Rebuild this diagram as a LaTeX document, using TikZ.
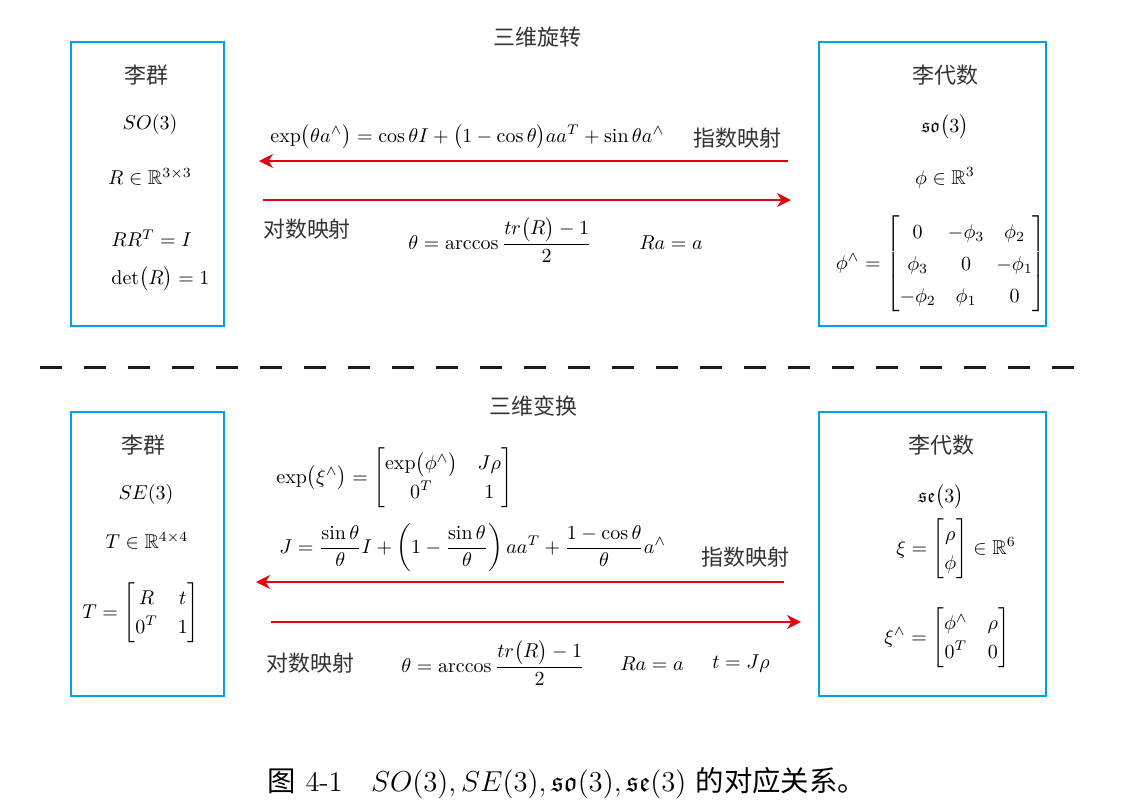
\documentclass[tikz,border=0pt]{standalone}
\usepackage{amsmath,amssymb}
\usepackage{fontspec}
\newfontfamily\cjk{Noto Sans CJK SC}
\usetikzlibrary{arrows.meta}
\definecolor{boxblue}{RGB}{0,160,233}
\definecolor{arrowred}{RGB}{230,0,18}
\definecolor{dashdark}{RGB}{35,24,21}
\begin{document}
\begin{tikzpicture}[x=0.5pt, y=-0.5pt,
	every node/.style={font=\fontsize{10}{12}\selectfont, inner sep=1pt},
	zh/.style={font=\fontsize{11}{13}\selectfont\cjk, text=black!80},
	groupbox/.style={draw=boxblue, line width=1pt, minimum width=76.5pt, minimum height=142pt},
	algebrabox/.style={groupbox, minimum width=113.5pt},
	maparrow/.style={draw=arrowred, line width=1pt, -{Stealth[length=7pt, width=7pt]}},
	dashline/.style={draw=dashdark, line width=1.5pt, dash pattern=on 11pt off 11pt}]
			\useasboundingbox (0,0) rectangle (1148,811);
			% boxes
			\node[groupbox] (grpSO) at (147.5,184) {};
			\node[algebrabox] (algSO) at (932.5,184) {};
			\node[groupbox] (grpSE) at (147.5,554) {};
			\node[algebrabox] (algSE) at (932.5,554) {};
			% rotation
			\node[zh] (rotTitle) at (537,37) {三维旋转};
			\node[zh] (grpSOname) at (146,75) {李群};
			\node (grpSOsym) at (150,124) {$SO(3)$};
			\node (grpSOset) at (150,177) {$R \in \mathbb{R}^{3\times 3}$};
			\node[anchor=west] (grpSOorth) at (109,238) {$RR^T = I$};
			\node[anchor=west] (grpSOdet) at (109,279) {$\det\bigl(R\bigr) = 1$};
			\node[zh] (algSOname) at (945,75) {李代数};
			\node (algSOsym) at (945,127) {$\mathfrak{so}\bigl(3\bigr)$};
			\node (algSOset) at (945,178) {$\phi \in \mathbb{R}^3$};
			\node (algSOhat) at (941,264) {\setlength{\arraycolsep}{3pt}\renewcommand{\arraystretch}{1.35}$\phi^{\wedge} = \begin{bmatrix} 0 & -\phi_3 & \phi_2 \\ \phi_3 & 0 & -\phi_1 \\ -\phi_2 & \phi_1 & 0 \end{bmatrix}$};
			\draw[maparrow, shorten <=15pt, shorten >=17pt] (algSO.west |- 0,161) -- (grpSO.east |- 0,161);
			\draw[maparrow, shorten <=19pt, shorten >=13.5pt] (grpSO.east |- 0,200) -- (algSO.west |- 0,200);
			\node[anchor=west] (rotExp) at (268,137) {$\exp\bigl(\theta a^{\wedge}\bigr) = \cos\theta I + \bigl(1-\cos\theta\bigr) aa^T + \sin\theta a^{\wedge}$};
			\node[zh] (rotExpLabel) at (737,138) {指数映射};
			\node[zh] (rotLogLabel) at (307,229) {对数映射};
			\node (rotAngle) at (500,240) {$\theta = \arccos\dfrac{tr\bigl(R\bigr)-1}{2}$};
			\node (rotAxis) at (671,243) {$Ra = a$};
			\draw[dashline] (40,367) -- (1083,367);
			% transformation
			\node[zh] (trfTitle) at (533,406) {三维变换};
			\node[zh] (grpSEname) at (143,445) {李群};
			\node (grpSEsym) at (146,494) {$SE(3)$};
			\node (grpSEset) at (147,541) {$T \in \mathbb{R}^{4\times 4}$};
			\node (grpSEmat) at (141,613) {\renewcommand{\arraystretch}{1.2}$T = \begin{bmatrix} R & t \\ 0^T & 1 \end{bmatrix}$};
			\node[zh] (algSEname) at (941,445) {李代数};
			\node (algSEsym) at (941,497) {$\mathfrak{se}\bigl(3\bigr)$};
			\node (algSEset) at (956,549) {\renewcommand{\arraystretch}{1.2}$\xi = \begin{bmatrix} \rho \\ \phi \end{bmatrix} \in \mathbb{R}^6$};
			\node (algSEhat) at (947,638) {\renewcommand{\arraystretch}{1.2}$\xi^{\wedge} = \begin{bmatrix} \phi^{\wedge} & \rho \\ 0^T & 0 \end{bmatrix}$};
			\draw[maparrow, shorten <=17pt, shorten >=15.5pt] (algSE.west |- 0,582) -- (grpSE.east |- 0,582);
			\draw[maparrow, shorten <=23pt, shorten >=8.5pt] (grpSE.east |- 0,622) -- (algSE.west |- 0,622);
			\node[anchor=west] (trfExp) at (274,478) {\renewcommand{\arraystretch}{1.2}$\exp\bigl(\xi^{\wedge}\bigr) = \begin{bmatrix} \exp\bigl(\phi^{\wedge}\bigr) & J\rho \\ 0^T & 1 \end{bmatrix}$};
			\node[anchor=west] (trfJac) at (277,548) {$J = \dfrac{\sin\theta}{\theta} I + \left(1 - \dfrac{\sin\theta}{\theta}\right) aa^T + \dfrac{1-\cos\theta}{\theta} a^{\wedge}$};
			\node[zh] (trfExpLabel) at (745,557) {指数映射};
			\node[zh] (trfLogLabel) at (310,663) {对数映射};
			\node (trfAngle) at (493,663) {$\theta = \arccos\dfrac{tr\bigl(R\bigr)-1}{2}$};
			\node (trfAxis) at (652,664) {$Ra = a$};
			\node (trfShift) at (741,664) {$t = J\rho$};
			% caption
			\node[font=\fontsize{14.2}{17}\selectfont] (caption) at (567,783) {{\cjk 图} 4-1\quad $SO(3), SE(3), \mathfrak{so}(3), \mathfrak{se}(3)$ {\cjk 的对应关系。}};
		\end{tikzpicture}
\end{document}
